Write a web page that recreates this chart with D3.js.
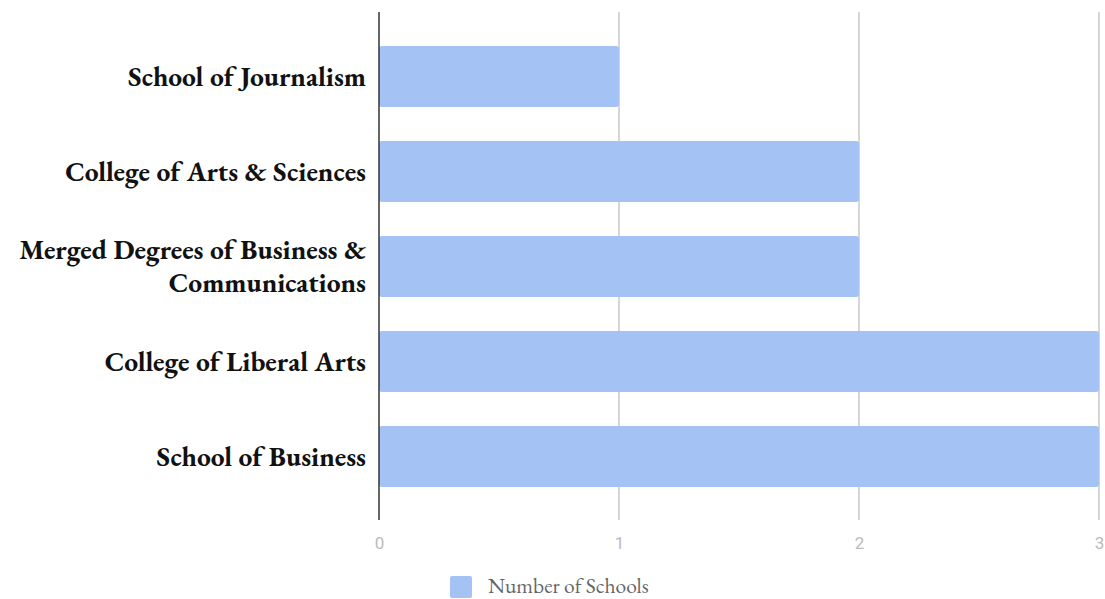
<!DOCTYPE html>
<html>
<head>
<meta charset="utf-8">
<script src="https://cdn.jsdelivr.net/npm/d3@7"></script>
<style>
  html, body { margin: 0; padding: 0; background: #fff; }
  svg { display: block; }
</style>
</head>
<body>
<svg id="chart" width="1105" height="599"></svg>
<script>
// Schools by category
const categories = [
  "School of Journalism",
  "College of Arts & Sciences",
  "Merged Degrees of Business & Communications",
  "College of Liberal Arts",
  "School of Business"
];
const categoryLines = [
  ["School of Journalism"],
  ["College of Arts & Sciences"],
  ["Merged Degrees of Business &", "Communications"],
  ["College of Liberal Arts"],
  ["School of Business"]
];
const schoolCounts = [1, 2, 2, 3, 3];
const xTicks = [0, 1, 2, 3];
const seriesName = "Number of Schools";

const svg = d3.select("#chart");
const plotLeft = 379, plotRight = 1099, plotTop = 12, plotBottom = 520;
const serif = "'EB Garamond', Garamond, 'Liberation Serif', serif";

const x = d3.scaleLinear().domain([0, 3]).range([plotLeft, plotRight]);
const y = d3.scaleBand().domain(categories).range([29, 504])
  .paddingInner(0.36).paddingOuter(0.18);

// vertical gridlines
svg.append("g").selectAll("line").data(xTicks.filter(d => d > 0)).join("line")
  .attr("x1", d => x(d)).attr("x2", d => x(d))
  .attr("y1", plotTop).attr("y2", plotBottom)
  .attr("stroke", "#cccccc").attr("stroke-width", 1.6);

// bars
svg.append("g").selectAll("rect").data(categories).join("rect")
  .attr("x", x(0))
  .attr("y", d => y(d))
  .attr("width", (d, i) => x(schoolCounts[i]) - x(0))
  .attr("height", y.bandwidth())
  .attr("rx", 3).attr("ry", 3)
  .attr("fill", "#a4c2f4");

// baseline axis
svg.append("line")
  .attr("x1", x(0)).attr("x2", x(0))
  .attr("y1", plotTop).attr("y2", plotBottom)
  .attr("stroke", "#333333").attr("stroke-width", 1.5);

// x tick labels
const xAxis = d3.axisBottom(x).tickValues(xTicks).tickFormat(d3.format("d")).tickSize(0).tickPadding(0);
const gx = svg.append("g").attr("transform", `translate(0, ${plotBottom + 23})`).call(xAxis);
gx.select(".domain").remove();
gx.selectAll("text")
  .attr("fill", "#bbbbbb")
  .attr("y", 0)
  .attr("dy", "0.35em")
  .style("font-family", "Roboto, 'Noto Sans', sans-serif")
  .style("font-size", "17px");

// category labels
const lab = svg.append("g").selectAll("text").data(categories).join("text")
  .attr("text-anchor", "end")
  .attr("x", 366)
  .style("font-family", serif)
  .style("font-weight", "bold")
  .style("font-size", "27.5px")
  .attr("fill", "#111");
lab.each(function (d, i) {
  const lines = categoryLines[i];
  const cy = y(d) + y.bandwidth() / 2;
  const lh = 33;
  const start = cy - (lines.length - 1) * lh / 2;
  d3.select(this).selectAll("tspan").data(lines).join("tspan")
    .attr("x", 366)
    .attr("y", (t, j) => start + j * lh)
    .attr("dy", "0.33em")
    .text(t => t);
});

// legend
const lg = svg.append("g");
lg.append("rect").attr("x", 450).attr("y", 576).attr("width", 22).attr("height", 22)
  .attr("rx", 2).attr("fill", "#a4c2f4");
lg.append("text").attr("x", 488).attr("y", 593)
  .style("font-family", serif)
  .style("font-size", "21.5px")
  .attr("fill", "#666")
  .text(seriesName);
</script>
</body>
</html>
